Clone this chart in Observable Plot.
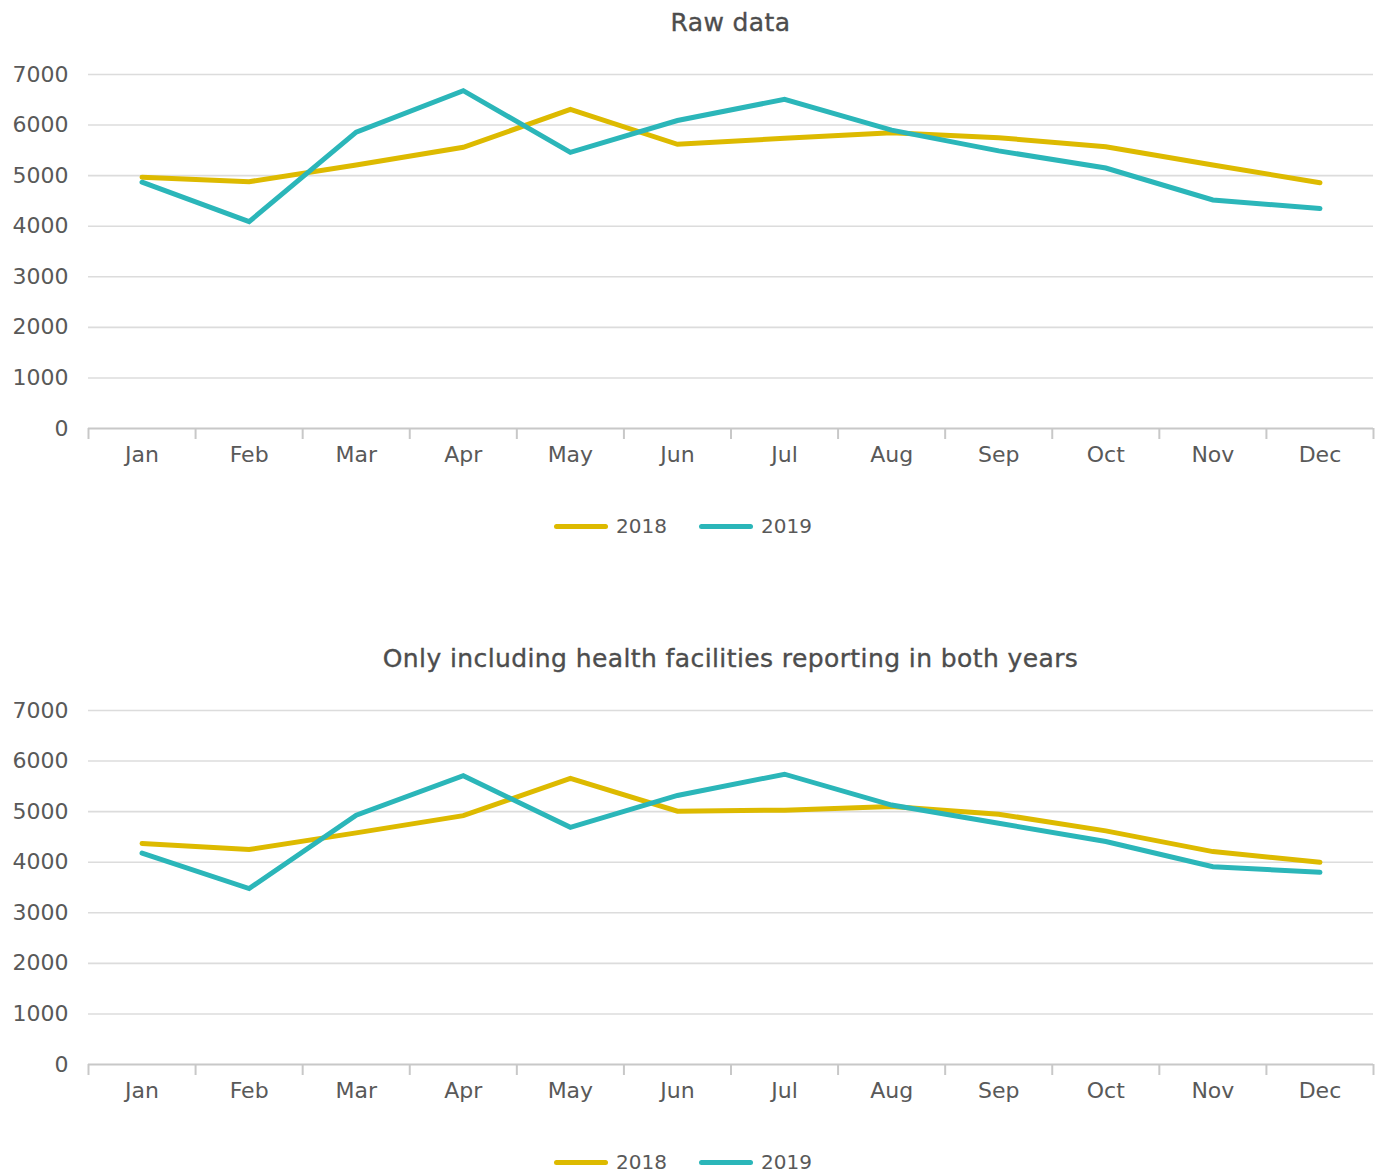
<!DOCTYPE html>
<html>
<head>
<meta charset="utf-8">
<script src="https://cdn.jsdelivr.net/npm/d3@7"></script>
<script src="https://cdn.jsdelivr.net/npm/@observablehq/plot@0.6"></script>
<style>
  body { margin: 0; background: #fff; }
  #wrap { position: relative; width: 1378px; height: 1173px; font-family: "DejaVu Sans", sans-serif; color: #595959; overflow: hidden; }
  .title { position: absolute; left: 88px; width: 1285px; text-align: center; font-size: 25px; line-height: 30px; font-weight: normal; color: #4d4d4d; letter-spacing: 0.4px; -webkit-text-stroke: 0.35px #4d4d4d; }
  .legend { position: absolute; left: 0; width: 1366px; display: flex; justify-content: center; align-items: center; font-size: 20px; line-height: 22px; color: #595959; }
  .legend .item { display: flex; align-items: center; margin: 0 16px; }
  .legend .sw { display: inline-block; width: 54px; height: 5px; border-radius: 3px; margin-right: 8px; }
  .chart { position: absolute; left: 0; }
</style>
</head>
<body>
<div id="wrap"></div>
<script>
const months = ["Jan", "Feb", "Mar", "Apr", "May", "Jun", "Jul", "Aug", "Sep", "Oct", "Nov", "Dec"];
const years = ["2018", "2019"];
const colors = ["#DDBA00", "#2BB6B9"];
const yTicks = [0, 1000, 2000, 3000, 4000, 5000, 6000, 7000];

const titles = ["Raw data", "Only including health facilities reporting in both years"];

// Raw data
const raw2018 = [4970, 4880, 5210, 5560, 6310, 5620, 5740, 5850, 5750, 5570, 5210, 4860];
const raw2019 = [4870, 4090, 5860, 6680, 5460, 6090, 6510, 5900, 5490, 5150, 4520, 4350];

// Only including health facilities reporting in both years
const both2018 = [4370, 4250, 4580, 4920, 5660, 5010, 5030, 5100, 4950, 4620, 4210, 4000];
const both2019 = [4180, 3480, 4930, 5710, 4690, 5320, 5740, 5130, 4770, 4410, 3910, 3800];

const wrap = document.getElementById("wrap");

function makeChart(s2018, s2019) {
  const data = [];
  years.forEach((yr, k) => {
    const s = k === 0 ? s2018 : s2019;
    months.forEach((m, i) => data.push({ idx: i + 0.5, month: m, year: yr, value: s[i] }));
  });
  return Plot.plot({
    width: 1378,
    height: 480,
    marginLeft: 88,
    marginRight: 5,
    marginTop: 74,
    marginBottom: 52,
    x: { type: "linear", domain: [0, 12], axis: null, label: null },
    y: { domain: [0, 7000], axis: null, label: null },
    color: { domain: years, range: colors },
    style: { fontFamily: "'DejaVu Sans', sans-serif", fontSize: "22px", color: "#595959", overflow: "visible", background: "transparent" },
    marks: [
      Plot.gridY(yTicks.filter(d => d > 0), { stroke: "#dcdcdc", strokeOpacity: 1, strokeWidth: 1.6 }),
      Plot.axisY({ ticks: yTicks, tickSize: 0, tickPadding: 20, fontSize: 22, fill: "#595959", label: null, tickFormat: d => String(d) }),
      Plot.ruleY([0], { stroke: "#c8c8c8", strokeWidth: 2 }),
      Plot.axisX({ ticks: d3.range(13), tickSize: 11, label: null, tickFormat: () => "", stroke: "#c8c8c8", strokeWidth: 2, strokeOpacity: 1 }),
      Plot.axisX({ ticks: months.map((m, i) => i + 0.5), tickSize: 0, tickPadding: 18, fontSize: 22, fill: "#595959", label: null, tickFormat: d => months[Math.floor(d)] }),
      Plot.line(data, { x: "idx", y: "value", z: "year", stroke: "year", strokeWidth: 5, strokeLinecap: "round", strokeLinejoin: "miter", strokeMiterlimit: 4 })
    ]
  });
}

function addTitle(text, top) {
  const d = document.createElement("div");
  d.className = "title";
  d.style.top = top + "px";
  d.textContent = text;
  wrap.appendChild(d);
}

function addLegend(centerY) {
  const d = document.createElement("div");
  d.className = "legend";
  d.style.top = (centerY - 11) + "px";
  years.forEach((yr, k) => {
    const it = document.createElement("span");
    it.className = "item";
    const sw = document.createElement("span");
    sw.className = "sw";
    sw.style.background = colors[k];
    const t = document.createElement("span");
    t.textContent = yr;
    it.appendChild(sw);
    it.appendChild(t);
    d.appendChild(it);
  });
  wrap.appendChild(d);
}

addTitle(titles[0], 8);
const c1 = makeChart(raw2018, raw2019);
c1.classList.add("chart");
c1.style.top = "0px";
wrap.appendChild(c1);
addLegend(526);

addTitle(titles[1], 644);
const c2 = makeChart(both2018, both2019);
c2.classList.add("chart");
c2.style.top = "636px";
wrap.appendChild(c2);
addLegend(1162);
</script>
</body>
</html>
